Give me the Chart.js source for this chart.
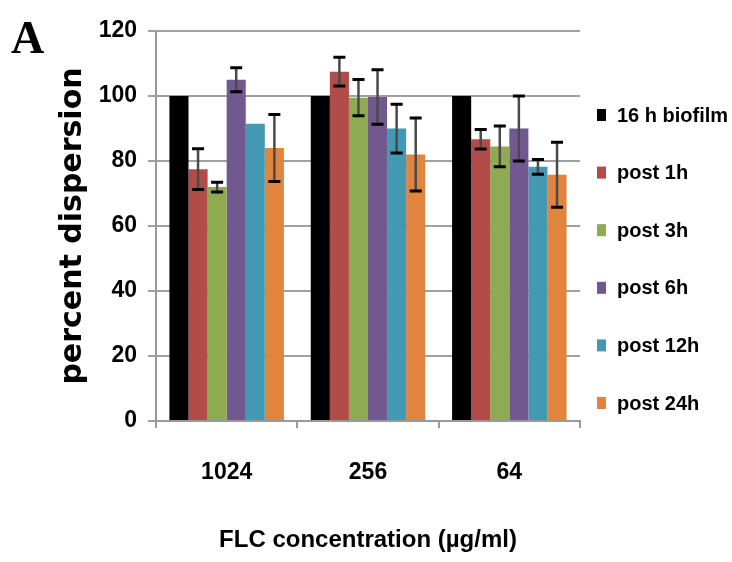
<!DOCTYPE html>
<html>
<head>
<meta charset="utf-8">
<script src="https://cdn.jsdelivr.net/npm/chart.js@4"></script>
<style>
  body { margin: 0; background: #fff; }
  #wrap { width: 732px; height: 562px; }
</style>
</head>
<body>
<div id="wrap"><canvas id="chart" width="732" height="562"></canvas></div>
<script>
// categories and tick labels
const categories = ['1024', '256', '64'];
const seriesNames = ['16 h biofilm', 'post 1h', 'post 3h', 'post 6h', 'post 12h', 'post 24h'];
const yTicks = [0, 20, 40, 60, 80, 100, 120];

// series values (percent dispersion)
const biofilm16h = [100, 100, 100];
const post1h = [77.5, 107.5, 86.7];
const post3h = [72, 99.5, 84.5];
const post6h = [105, 99.7, 90];
const post12h = [91.5, 90, 78.2];
const post24h = [84, 82, 75.8];

// error bar half-widths
const err16h = [0, 0, 0];
const errPost1h = [6.3, 4.4, 3];
const errPost3h = [1.5, 5.6, 6.3];
const errPost6h = [3.7, 8.4, 10];
const errPost12h = [0, 7.5, 2.3];
const errPost24h = [10.3, 11.2, 10];

const colors = ['#000000', '#b14c48', '#8fab52', '#71588f', '#4299b1', '#e0843e'];
const values = [biofilm16h, post1h, post3h, post6h, post12h, post24h];
const errors = [err16h, errPost1h, errPost3h, errPost6h, errPost12h, errPost24h];

const sans = "'Liberation Sans', Arial, sans-serif";

// error bars drawn from the y scale
const errorBars = {
  id: 'errorBars',
  afterDatasetsDraw(chart) {
    const ctx = chart.ctx;
    const y = chart.scales.y;
    chart.data.datasets.forEach((ds, i) => {
      const meta = chart.getDatasetMeta(i);
      meta.data.forEach((bar, j) => {
        const e = ds.errors[j];
        if (!e) return;
        const v = ds.data[j];
        const top = y.getPixelForValue(v + e);
        const bot = y.getPixelForValue(v - e);
        ctx.save();
        ctx.strokeStyle = '#4a4a4a';
        ctx.lineWidth = 2.5;
        ctx.beginPath();
        ctx.moveTo(bar.x, top);
        ctx.lineTo(bar.x, bot);
        ctx.stroke();
        ctx.strokeStyle = '#000';
        ctx.lineWidth = 3;
        ctx.beginPath();
        ctx.moveTo(bar.x - 6, top);
        ctx.lineTo(bar.x + 6, top);
        ctx.moveTo(bar.x - 6, bot);
        ctx.lineTo(bar.x + 6, bot);
        ctx.stroke();
        ctx.restore();
      });
    });
  }
};

// legend on the right and the panel letter
const sideLegend = {
  id: 'sideLegend',
  afterDraw(chart) {
    const ctx = chart.ctx;
    ctx.save();
    chart.data.datasets.forEach((ds, i) => {
      const cy = 115 + i * 57.6;
      ctx.fillStyle = ds.backgroundColor;
      ctx.fillRect(597, cy - 6, 9, 12);
      ctx.fillStyle = '#000';
      ctx.font = 'bold 20px ' + sans;
      ctx.textBaseline = 'middle';
      ctx.textAlign = 'left';
      ctx.fillText(ds.label, 617, cy + 1);
    });
    ctx.font = "bold 46px 'Liberation Serif', 'Times New Roman', serif";
    ctx.textBaseline = 'alphabetic';
    ctx.fillText('A', 11, 53);
    ctx.restore();
  }
};

new Chart(document.getElementById('chart'), {
  type: 'bar',
  data: {
    labels: categories,
    datasets: seriesNames.map((name, i) => ({
      label: name,
      data: values[i],
      errors: errors[i],
      backgroundColor: colors[i],
      borderWidth: 0,
      categoryPercentage: 0.81,
      barPercentage: 1
    }))
  },
  options: {
    responsive: false,
    animation: false,
    devicePixelRatio: 1,
    color: '#000',
    layout: { padding: { top: 31, right: 152, left: 0, bottom: 0 } },
    plugins: {
      legend: { display: false },
      tooltip: { enabled: false }
    },
    scales: {
      x: {
        grid: { drawOnChartArea: false, drawTicks: true, tickLength: 7, color: '#999', lineWidth: 2 },
        border: { color: '#999', width: 2 },
        ticks: { color: '#000', padding: 31.2, font: { family: sans, weight: 'bold', size: 23 } },
        title: {
          display: true,
          text: 'FLC concentration (µg/ml)',
          color: '#000',
          font: { family: sans, weight: 'bold', size: 24 },
          padding: { top: 0, bottom: 7.6 }
        },
        afterFit(scale) { scale.height = 141; }
      },
      y: {
        min: 0,
        max: 120,
        afterBuildTicks(scale) { scale.ticks = yTicks.map(v => ({ value: v })); },
        grid: { color: '#a0a0a0', lineWidth: 2, tickLength: 8 },
        border: { color: '#999', width: 2 },
        ticks: { color: '#000', padding: 11, font: { family: sans, weight: 'bold', size: 23 } },
        title: {
          display: true,
          text: 'percent dispersion',
          color: '#000',
          font: { family: "'DejaVu Sans', sans-serif", weight: 'bold', size: 30 },
          padding: { top: 55, bottom: 0 }
        },
        afterFit(scale) { scale.width = 156; }
      }
    }
  },
  plugins: [errorBars, sideLegend]
});
</script>
</body>
</html>
